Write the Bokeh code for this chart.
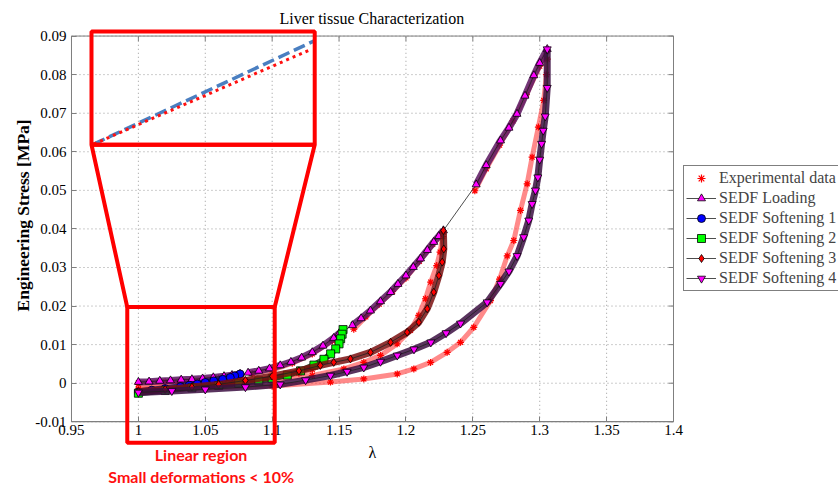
import math
from bokeh.plotting import figure
from bokeh.models import (Range1d, Legend, LegendItem, Label, PolyAnnotation, FixedTicker)
from bokeh.embed import file_html
from bokeh.resources import INLINE

nan = float("nan")

# ---------------- data ----------------
x_ticks = [0.95, 1.0, 1.05, 1.1, 1.15, 1.2, 1.25, 1.3, 1.35, 1.4]
x_tick_labels = ["0.95", "1", "1.05", "1.1", "1.15", "1.2", "1.25", "1.3", "1.35", "1.4"]
y_ticks = [-0.01, 0.0, 0.01, 0.02, 0.03, 0.04, 0.05, 0.06, 0.07, 0.08, 0.09]
y_tick_labels = ["-0.01", "0", "0.01", "0.02", "0.03", "0.04", "0.05", "0.06", "0.07", "0.08", "0.09"]

# SEDF Loading (primary envelope), four recorded stretches
load_lam_segments = [
    [1.000, 1.008, 1.016, 1.024, 1.032, 1.040, 1.048, 1.056, 1.064, 1.070, 1.076],
    [1.082, 1.090, 1.098, 1.106, 1.114, 1.122, 1.130, 1.138, 1.146, 1.150],
    [1.160, 1.1665, 1.1735, 1.181, 1.1885, 1.194, 1.200, 1.2055, 1.2109, 1.216, 1.2208, 1.2245, 1.228],
    [1.2525, 1.260, 1.2707, 1.277, 1.283, 1.289, 1.2956, 1.300, 1.3056],
]
load_sig_segments = [
    [0.0003, 0.0004, 0.0006, 0.0007, 0.0009, 0.0010, 0.0012, 0.0015, 0.0018, 0.0021, 0.0024],
    [0.0027, 0.0032, 0.0038, 0.0046, 0.0055, 0.0066, 0.0080, 0.0097, 0.0117, 0.0129],
    [0.0150, 0.0168, 0.0188, 0.0212, 0.0236, 0.0257, 0.0279, 0.0301, 0.0323, 0.0345, 0.0366, 0.0381, 0.0396],
    [0.0515, 0.0565, 0.0629, 0.0662, 0.0698, 0.0745, 0.0798, 0.0830, 0.0866],
]

# SEDF Softening 1
s1_lam = [1.076, 1.072, 1.0687, 1.063, 1.0563, 1.050, 1.044, 1.038, 1.0315, 1.020, 1.010, 1.000]
s1_sig = [0.0024, 0.0019, 0.0015, 0.0010, 0.0006, 0.0002, -0.0002, -0.0005, -0.0009, -0.0014, -0.0018, -0.0023]

# SEDF Softening 2
s2_lam = [1.153, 1.1523, 1.1512, 1.1500, 1.1475, 1.1437, 1.1387, 1.1312, 1.1212, 1.1113,
          1.100, 1.090, 1.075, 1.060, 1.040, 1.020, 1.000]
s2_sig = [0.0139, 0.0127, 0.0115, 0.0102, 0.0089, 0.0076, 0.0062, 0.0047, 0.0032, 0.0021,
          0.0012, 0.0006, 0.0000, -0.0006, -0.0012, -0.0019, -0.0026]

# SEDF Softening 3
s3_lam = [1.228, 1.2283, 1.2271, 1.2246, 1.2208, 1.2159, 1.2096, 1.2009, 1.1885, 1.1735,
          1.1585, 1.1460, 1.1360, 1.1200, 1.1000, 1.0800, 1.0600, 1.0400, 1.0200, 1.0000]
s3_sig = [0.0396, 0.0348, 0.0314, 0.0279, 0.0236, 0.0193, 0.0158, 0.0132, 0.0106, 0.0080,
          0.0063, 0.0054, 0.0046, 0.0032, 0.0018, 0.0007, -0.0003, -0.0010, -0.0016, -0.0022]

# SEDF Softening 4
s4_lam = [1.3056, 1.3056, 1.3041, 1.3026, 1.3014, 1.3000, 1.2986, 1.2968, 1.2943, 1.2918,
          1.2880, 1.2831, 1.2770, 1.2707, 1.2607, 1.2408, 1.2300, 1.2186, 1.2060, 1.1935,
          1.1810, 1.1685, 1.1560, 1.1436, 1.1250, 1.1060, 1.0800, 1.0500, 1.0250, 1.0000]
s4_sig = [0.0866, 0.0766, 0.0692, 0.0655, 0.0621, 0.0580, 0.0534, 0.0500, 0.0465, 0.0422,
          0.0379, 0.0330, 0.0290, 0.0258, 0.0210, 0.0155, 0.0130, 0.0106, 0.0088, 0.0072,
          0.0056, 0.0041, 0.0030, 0.0020, 0.0008, -0.0003, -0.0010, -0.0016, -0.0020, -0.0024]

# Experimental data (NaN separates the recorded passes)
exp_lam = [1.000, 1.020, 1.040, 1.060, 1.076, nan,
           1.085, 1.100, 1.115, 1.130, 1.145, 1.152, nan,
           1.161, 1.170, 1.180, 1.190, 1.200, 1.210, 1.220, 1.228, nan,
           1.2515, 1.260, 1.270, 1.280, 1.290, 1.300, 1.3056, nan,
           1.2275, 1.2255, 1.2230, 1.2185, 1.2146, 1.2096, 1.2034, 1.1934, 1.1810, 1.1685,
           1.1536, 1.1300, 1.1000, 1.0500, 1.0000, nan,
           1.000, 1.030, 1.060, 1.080, 1.100, 1.120, 1.130, nan,
           1.000, 1.050, 1.100, 1.1436, 1.1685, 1.1935, 1.2059, 1.2184, 1.2308, 1.2408, 1.2507,
           1.2632, 1.2700, 1.2757, 1.2806, 1.2856, 1.2906, 1.2943, 1.2990, 1.3030, 1.3050, 1.3056]
exp_sig = [0.0001, 0.0004, 0.0008, 0.0013, 0.0020, nan,
           0.0025, 0.0034, 0.0052, 0.0076, 0.0110, 0.0128, nan,
           0.0140, 0.0172, 0.0205, 0.0238, 0.0273, 0.0316, 0.0360, 0.0392, nan,
           0.0499, 0.0556, 0.0617, 0.0680, 0.0748, 0.0822, 0.0862, nan,
           0.0380, 0.0340, 0.0305, 0.0262, 0.0219, 0.0176, 0.0137, 0.0102, 0.0072, 0.0054,
           0.0037, 0.0020, 0.0008, -0.0005, -0.0015, nan,
           -0.0003, -0.0001, 0.0005, 0.0008, 0.0013, 0.0026, 0.0035, nan,
           -0.0016, -0.0012, -0.0007, 0.0003, 0.0011, 0.0024, 0.0037, 0.0054, 0.0080, 0.0106, 0.0145,
           0.0214, 0.0270, 0.0330, 0.0370, 0.0448, 0.0517, 0.0586, 0.0664, 0.0733, 0.0800, 0.0840]

# ---------------- figure ----------------
SERIF = "Times New Roman"
GRAY = "#7f7f7f"
X0, X1 = x_ticks[0], x_ticks[-1]
Y0, Y1 = y_ticks[0], y_ticks[-1]

p = figure(frame_width=838, frame_height=458,
           x_range=Range1d(0.896928, 1.523329), y_range=Range1d(-0.02678, 0.09196),
           output_backend="svg", toolbar_location=None,
           min_border_left=0, min_border_top=28, min_border_bottom=0,
           min_border_right=0, background_fill_color="white",
           border_fill_color="white")
p.outline_line_color = None
p.grid.visible = False

p.title.text = "Liver tissue Characterization"
p.title.align = "left"
p.title.offset = 279
p.title.text_font = SERIF
p.title.text_font_style = "normal"
p.title.text_font_size = "16px"
p.title.text_color = "black"
p.title.standoff = 3

xa = p.xaxis[0]
ya = p.yaxis[0]
xa.fixed_location = Y0
ya.fixed_location = X0
xa.bounds = (X0, X1)
ya.bounds = (Y0, Y1)
for ax in (xa, ya):
    ax.major_label_text_font = SERIF
    ax.major_label_text_font_size = "15px"
    ax.major_label_text_font_style = "normal"
    ax.major_label_text_color = "black"
    ax.axis_line_color = GRAY
    ax.major_tick_line_color = GRAY
    ax.major_tick_in = 5
    ax.major_tick_out = 0
    ax.minor_tick_line_color = None
    ax.axis_label_text_font = SERIF
    ax.axis_label_text_color = "black"

xa.ticker = FixedTicker(ticks=x_ticks)
ya.ticker = FixedTicker(ticks=y_ticks)
xa.major_label_overrides = {t: s for t, s in zip(x_ticks, x_tick_labels)}
ya.major_label_overrides = {t: s for t, s in zip(y_ticks, y_tick_labels)}
xa.major_label_standoff = 3
ya.major_label_standoff = 5
xa.axis_label = "λ"
xa.axis_label_text_font_size = "16px"
xa.axis_label_text_font_style = "normal"
xa.axis_label_standoff = 6

# y axis title placed where the reference has it
p.add_layout(Label(x=0.9134, y=0.0435, text="Engineering Stress [MPa]", angle=math.pi / 2,
                   text_align="center", text_baseline="middle", text_color="black",
                   text_font=SERIF, text_font_style="bold", text_font_size="17.5px"))

# dotted grid inside the axes box
p.segment(x0=x_ticks, y0=[Y0] * len(x_ticks), x1=x_ticks, y1=[Y1] * len(x_ticks),
          line_color="#9a9a9a", line_dash="1 3", line_width=1)
p.segment(x0=[X0] * len(y_ticks), y0=y_ticks, x1=[X1] * len(y_ticks), y1=y_ticks,
          line_color="#9a9a9a", line_dash="1 3", line_width=1)
# box + inward ticks on the top and right sides
p.quad(left=[X0], right=[X1], bottom=[Y0], top=[Y1], fill_color=None, line_color=GRAY, line_width=1)
p.segment(x0=x_ticks, y0=[Y1] * len(x_ticks), x1=x_ticks, y1=[Y1 - 0.0013] * len(x_ticks),
          line_color=GRAY, line_width=1)
p.segment(x0=[X1] * len(y_ticks), y0=y_ticks, x1=[X1 - 0.0037] * len(y_ticks), y1=y_ticks,
          line_color=GRAY, line_width=1)


def split_nan(lam, sig):
    xs, ys, cx, cy = [], [], [], []
    for a, b in zip(lam, sig):
        if math.isnan(a):
            if cx:
                xs.append(cx); ys.append(cy)
            cx, cy = [], []
        else:
            cx.append(a); cy.append(b)
    if cx:
        xs.append(cx); ys.append(cy)
    return xs, ys

# experimental: dense red band + asterisk markers
ex_xs, ex_ys = split_nan(exp_lam, exp_sig)
p.multi_line(ex_xs, ex_ys, line_color="#ff2a2a", line_width=5, line_alpha=0.55)
exp_r = p.scatter(exp_lam, exp_sig, marker="asterisk", size=7, line_color="#ff0000",
                  line_width=1.2)

load_lam = [v for seg in load_lam_segments for v in seg]
load_sig = [v for seg in load_sig_segments for v in seg]

models = [
    (load_lam_segments, load_sig_segments, load_lam, load_sig, "triangle", "#ff00ff", "#5a1560"),
    ([s1_lam], [s1_sig], s1_lam, s1_sig, "circle", "#0000ff", "#1a1a70"),
    ([s2_lam], [s2_sig], s2_lam, s2_sig, "square", "#00ff00", "#143c14"),
    ([s3_lam], [s3_sig], s3_lam, s3_sig, "diamond", "#ff0000", "#7a1010"),
    ([s4_lam], [s4_sig], s4_lam, s4_sig, "inverted_triangle", "#ff00ff", "#3c0f42"),
]
names = ["SEDF Loading", "SEDF Softening 1", "SEDF Softening 2", "SEDF Softening 3", "SEDF Softening 4"]
items = [LegendItem(label="Experimental data", renderers=[exp_r])]
for (bx, by, lx, ly, mk, fc, band), nm in zip(models, names):
    if mk == "square":
        p.multi_line([lx[2:]], [ly[2:]], line_color=band, line_width=6, line_alpha=0.85)
    else:
        p.multi_line(bx, by, line_color=band, line_width=7, line_alpha=0.85)
    lr = p.line(lx, ly, line_color="#202020", line_width=0.8)
    sr = p.scatter(lx, ly, marker=mk, size=8, fill_color=fc, line_color="black", line_width=0.8)
    items.append(LegendItem(label=nm, renderers=[lr, sr]))

# legend sits to the right of the axes box (frame spans the whole canvas)
legend = Legend(items=items, location=(683, 195), orientation="vertical",
                label_text_font=SERIF, label_text_font_size="16px",
                label_text_font_style="normal",
                label_height=20, glyph_height=20, glyph_width=30, label_standoff=3,
                spacing=0, padding=2, margin=0,
                border_line_color="black", border_line_width=1,
                background_fill_color="white", background_fill_alpha=1)
p.add_layout(legend)

# ---------------- red zoom annotation ----------------
for xs, ys in (([0.96495, 1.1318, 1.1318, 0.96495], [0.09119, 0.09119, 0.06181, 0.06181]),
               ([0.96495, 1.1318, 1.1019, 0.99168], [0.06181, 0.06181, 0.01973, 0.01973]),
               ([0.99168, 1.1019, 1.1019, 0.99168], [0.01973, 0.01973, -0.01545, -0.01545])):
    p.add_layout(PolyAnnotation(xs=xs, ys=ys, fill_alpha=0, line_color="#ff0000",
                                line_alpha=1, line_width=4))

p.line([0.9666, 1.1311], [0.0620, 0.0887], line_color="#4a7fc1", line_width=3.5, line_dash="12 5")
p.line([0.9666, 1.1274], [0.0620, 0.0863], line_color="#ff1010", line_width=3, line_dash="3 4")

p.add_layout(Label(x=1.047, y=-0.0185, text="Linear region", text_align="center",
                   text_baseline="middle", text_color="#ff1010", text_font="Lato",
                   text_font_style="bold", text_font_size="16px"))
p.add_layout(Label(x=1.047, y=-0.0243, text="Small deformations < 10%", text_align="center",
                   text_baseline="middle", text_color="#ff1010", text_font="Lato",
                   text_font_style="bold", text_font_size="16px"))

open("out.html", "w").write(file_html(p, INLINE))
